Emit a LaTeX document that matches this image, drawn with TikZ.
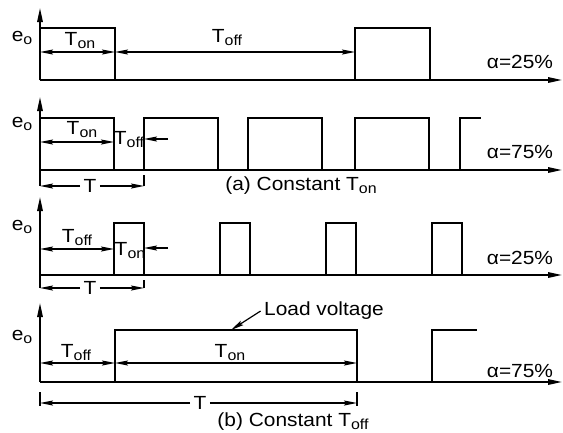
\documentclass[tikz,border=0pt]{standalone}
\usepackage{fontspec}
\setmainfont{Liberation Sans}[FakeStretch=1.1]
\usetikzlibrary{arrows.meta}
\newcommand{\lowidx}[1]{\raisebox{-0.3ex}{\fontsize{14.5}{15}\selectfont #1}}

\begin{document}
\begin{tikzpicture}[x=1pt, y=-1pt, font=\fontsize{19}{21}\selectfont,
	wave/.style={line width=1.8pt, line join=miter},
	axis/.style={line width=1.6pt, -{Triangle[length=14pt,width=5.5pt]}},
	dim/.style={line width=1.2pt, {Stealth[length=13pt,width=5pt,inset=2pt]}-{Stealth[length=13pt,width=5pt,inset=2pt]}},
	half/.style={line width=1.2pt, -{Stealth[length=13pt,width=5pt,inset=2pt]}},
	tick/.style={line width=1.3pt}]
	\useasboundingbox (0,0) rectangle (563,432);

	% (a) constant Ton, alpha = 25%
	\coordinate (O1) at (40,80);
	\coordinate (Y1) at (40,8);
	\coordinate (X1) at (562,80);
	\draw[axis] (O1) -- (Y1);
	\draw[axis] (O1) -- (X1);
	\draw[wave] (40,80) |- (115,28) -- (115,80);
	\draw[wave] (355,80) |- (430,28) -- (430,80);
	\coordinate (a1) at (40,52);
	\coordinate (b1) at (115,52);
	\coordinate (c1) at (355,52);
	\draw[dim] (a1) -- (b1);
	\draw[dim] (b1) -- (c1);
	\node (Ton1)  at (80,41)	{T\lowidx{on}};
	\node (Toff1) at (227,38)	{T\lowidx{off}};
	\node (E1) at (22,38)	{e\lowidx{o}};
	\node (A1) at (520,62)	{α=25\%};

	% (a) constant Ton, alpha = 75%
	\coordinate (O2) at (40,170);
	\coordinate (Y2) at (40,97);
	\coordinate (X2) at (562,170);
	\draw[axis] (O2) -- (Y2);
	\draw[axis] (O2) -- (X2);
	\foreach \s in {40,144,248,355}
		\draw[wave] (\s,170) |- (\s+74,118) -- (\s+74,170);
	\draw[wave] (460,170) |- (481,118);
	\coordinate (a2) at (40,142);
	\coordinate (b2) at (114,142);
	\coordinate (c2) at (144,139);
	\coordinate (d2) at (168,139);
	\draw[dim] (a2) -- (b2);
	\draw[half] (d2) -- (c2);
	\node (Ton2)  at (82,130)	{T\lowidx{on}};
	\node (Toff2) at (129,140)	[inner sep=0pt]	{T\lowidx{off}};
	\coordinate (t2a) at (40,186);
	\coordinate (t2b) at (144,186);
	\draw[tick] (O2) -- (t2a);
	\draw[tick] (144,175) -- (t2b);
	\node (T2) at (90,186)	{T};
	\draw[half] (T2) -- (t2a);
	\draw[half] (T2) -- (t2b);
	\node (E2) at (22,124)	{e\lowidx{o}};
	\node (A2) at (520,152)	{α=75\%};
	\node (capA) at (301,186)	{(a) Constant T\lowidx{on}};

	% (b) constant Toff, alpha = 25%
	\coordinate (O3) at (40,275);
	\coordinate (Y3) at (40,197);
	\coordinate (X3) at (562,275);
	\draw[axis] (O3) -- (Y3);
	\draw[axis] (O3) -- (X3);
	\foreach \s in {114,220,326,432}
		\draw[wave] (\s,275) |- (\s+30,223) -- (\s+30,275);
	\coordinate (a3) at (40,249);
	\coordinate (b3) at (114,249);
	\coordinate (c3) at (144,248);
	\coordinate (d3) at (168,248);
	\draw[dim] (a3) -- (b3);
	\draw[half] (d3) -- (c3);
	\node (Toff3) at (77,238)	{T\lowidx{off}};
	\node (Ton3)  at (130,251)	[inner sep=0pt]	{T\lowidx{on}};
	\coordinate (t3a) at (40,288);
	\coordinate (t3b) at (144,288);
	\draw[tick] (O3) -- (t3a);
	\draw[tick] (144,280) -- (t3b);
	\node (T3) at (90,288)	{T};
	\draw[half] (T3) -- (t3a);
	\draw[half] (T3) -- (t3b);
	\node (E3) at (22,227)	{e\lowidx{o}};
	\node (A3) at (520,258)	{α=25\%};

	% (b) constant Toff, alpha = 75%
	\coordinate (O4) at (40,382);
	\coordinate (Y4) at (40,303);
	\coordinate (X4) at (562,382);
	\draw[axis] (O4) -- (Y4);
	\draw[axis] (O4) -- (X4);
	\draw[wave] (115,382) |- (357,330) -- (357,382);
	\draw[wave] (432,382) |- (477,330);
	\coordinate (a4) at (40,363);
	\coordinate (b4) at (115,363);
	\coordinate (c4) at (357,363);
	\draw[dim] (a4) -- (b4);
	\draw[dim] (b4) -- (c4);
	\node (Toff4) at (76,353)	{T\lowidx{off}};
	\node (Ton4)  at (230,353)	{T\lowidx{on}};
	\coordinate (t4a) at (40,403);
	\coordinate (t4b) at (357,403);
	\draw[tick] (40,392) -- (40,406);
	\draw[tick] (357,392) -- (357,406);
	\node (T4) at (200,403)	{T};
	\draw[half] (T4) -- (t4a);
	\draw[half] (T4) -- (t4b);
	\node (LV) at (324,311)	{Load voltage};
	\coordinate (lv) at (231,330);
	\draw[half] (LV.west) -- (lv);
	\node (E4) at (22,337)	{e\lowidx{o}};
	\node (A4) at (520,371)	{α=75\%};
	\node (capB) at (293,422)	{(b) Constant T\lowidx{off}};
\end{tikzpicture}
\end{document}
